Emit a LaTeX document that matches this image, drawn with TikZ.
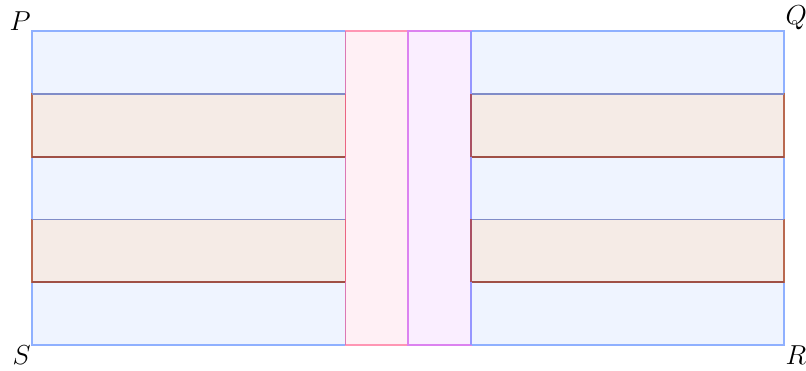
\documentclass[tikz,border=0pt]{standalone}
\definecolor{bfill}{RGB}{239,244,255}
\definecolor{bline}{RGB}{143,176,255}
\definecolor{rfill}{RGB}{245,235,230}
\definecolor{rline}{RGB}{185,105,80}
\definecolor{rtop}{RGB}{128,140,200}
\definecolor{rbot}{RGB}{160,80,70}
\definecolor{pfill}{RGB}{255,240,245}
\definecolor{pline}{RGB}{255,150,180}
\definecolor{vfill}{RGB}{250,238,255}
\definecolor{vline}{RGB}{220,130,240}
\definecolor{pleftb}{RGB}{220,120,180}
\definecolor{pleftr}{RGB}{235,100,130}
\definecolor{vrightb}{RGB}{150,150,255}
\definecolor{vrightr}{RGB}{170,80,100}
\tikzset{
  edge/.style={line width=1.6pt},
  bluebox/.style={edge, draw=bline, fill=bfill},
  brownbox/.style={edge, draw=rline, fill=rfill},
  pinkbox/.style={edge, draw=pline, fill=pfill},
  violetbox/.style={edge, draw=vline, fill=vfill},
  corner/.style={inner sep=1pt, font=\fontsize{24}{28}\selectfont}
}
\begin{document}
\begin{tikzpicture}[x=1cm,y=1cm]
\useasboundingbox (-1.02,-0.83) rectangle (24.69,11.0);
% blue regions
\draw[bluebox] (0,0) rectangle (10,10);
\draw[bluebox] (14,0) rectangle (24,10);
% brown strips
\foreach \y in {2,6} {
  \draw[brownbox] (0,\y) rectangle (10,\y+2);
  \draw[brownbox] (14,\y) rectangle (24,\y+2);
  \draw[edge, draw=rtop] (0,\y+2) -- (10,\y+2);
  \draw[edge, draw=rtop] (14,\y+2) -- (24,\y+2);
  \draw[edge, draw=rbot] (0,\y) -- (10,\y);
  \draw[edge, draw=rbot] (14,\y) -- (24,\y);
}
% middle strips
\draw[pinkbox] (10,0) rectangle (12,10);
\draw[violetbox] (12,0) rectangle (14,10);
\draw[edge, draw=pleftb] (10,0) -- (10,10);
\draw[edge, draw=vrightb] (14,0) -- (14,10);
\foreach \y in {2,6} {
  \draw[edge, draw=pleftr] (10,\y) -- (10,\y+2);
  \draw[edge, draw=vrightr] (14,\y) -- (14,\y+2);
}
\draw[edge, draw=vline] (12,0) -- (12,10);
% corner labels
\coordinate (cP) at (0,10);
\coordinate (cQ) at (24,10);
\coordinate (cR) at (24,0);
\coordinate (cS) at (0,0);
\node[corner, anchor=south east] (P) at (cP) {$P$};
\node[corner, anchor=south west] (Q) at (cQ) {$Q$};
\node[corner, anchor=north west] (R) at (cR) {$R$};
\node[corner, anchor=north east] (S) at (cS) {$S$};
\end{tikzpicture}
\end{document}
